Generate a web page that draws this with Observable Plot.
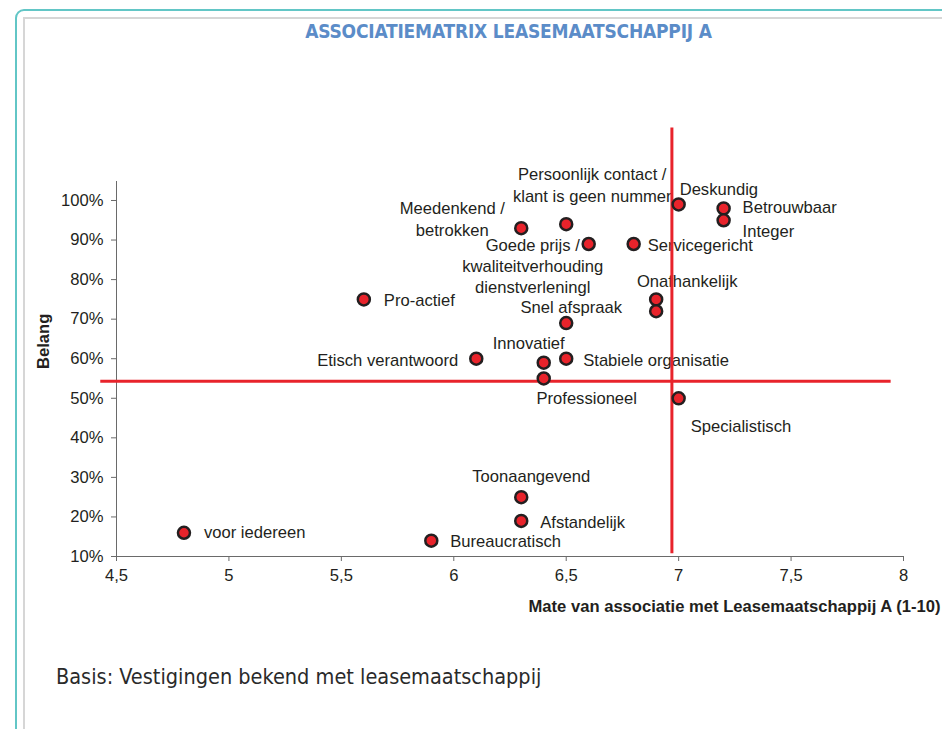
<!DOCTYPE html>
<html>
<head>
<meta charset="utf-8">
<script src="https://cdn.jsdelivr.net/npm/d3@7"></script>
<script src="https://cdn.jsdelivr.net/npm/@observablehq/plot@0.6"></script>
<style>
  html, body { margin: 0; padding: 0; background: #fff; }
  #page { position: relative; width: 942px; height: 729px; overflow: hidden; background: #fff; }
  #outer { position: absolute; left: 15px; top: 9px; width: 1000px; height: 800px; border: 2px solid #62c6c6; border-radius: 9px; box-sizing: border-box; }
  #inner { position: absolute; left: 23px; top: 17px; width: 1000px; height: 800px; border-left: 2px solid #d6d6d6; border-top: 2px solid #d6d6d6; box-sizing: border-box; }
  #title { position: absolute; left: 0; width: 1017px; top: 20px; text-align: center; font-family: "DejaVu Sans Condensed", "DejaVu Sans", sans-serif; font-weight: bold; font-size: 19px; color: #5b8cc8; letter-spacing: -0.2px; }
  #chart { position: absolute; left: 0; top: 0; }
  #caption { position: absolute; left: 56px; top: 664px; font-family: "DejaVu Sans Condensed", "DejaVu Sans", sans-serif; font-size: 21.5px; color: #2a2a2a; }
</style>
</head>
<body>
<div id="page">
  <div id="outer"></div>
  <div id="inner"></div>
  <div id="chart"></div>
  <div id="title">ASSOCIATIEMATRIX LEASEMAATSCHAPPIJ A</div>
  <div id="caption">Basis: Vestigingen bekend met leasemaatschappij</div>
</div>
<script>
// ---- data ----
const labels = [
  "voor iedereen", "Bureaucratisch", "Afstandelijk", "Toonaangevend", "Pro-actief",
  "Etisch verantwoord", "Innovatief", "Professioneel", "Stabiele organisatie", "Snel afspraak",
  "Meedenkend /\nbetrokken", "Persoonlijk contact /\nklant is geen nummer",
  "Goede prijs /\nkwaliteitverhouding\ndienstverleningl", "Servicegericht", "Deskundig",
  "Betrouwbaar", "Integer", "Onafhankelijk", "", "Specialistisch"
];
const association = [4.8, 5.9, 6.3, 6.3, 5.6, 6.1, 6.4, 6.4, 6.5, 6.5, 6.3, 6.5, 6.6, 6.8, 7.0, 7.2, 7.2, 6.9, 6.9, 7.0];
const importance  = [16, 14, 19, 25, 75, 60, 59, 55, 60, 69, 93, 94, 89, 89, 99, 98, 95, 75, 72, 50];

const xTicks = [4.5, 5, 5.5, 6, 6.5, 7, 7.5, 8];
const yTicks = [10, 20, 30, 40, 50, 60, 70, 80, 90, 100];

// reference (average) lines
const avgAssociation = 6.97;
const avgImportance = 54.3;

const xLabel = "Mate van associatie met Leasemaatschappij A (1-10)";
const yLabel = "Belang";

// label placement: [textAnchor, dx, dy]
const labelLayout = [
  ["start", 20, -2], ["start", 19, 0], ["start", 19, 0], ["middle", 10, -22], ["start", 20, 0],
  ["end", -18, 0], ["middle", -15, -20], ["middle", 43, 19], ["start", 17, 0], ["middle", 5, -17],
  ["middle", -69, -10], ["middle", 26, -40], ["middle", -56, 21], ["start", 14, 0], ["start", 1, -16],
  ["start", 19, -2], ["start", 19, 10], ["middle", 31, -19], ["start", 0, 0], ["start", 12, 27]
];

const points = labels.map((name, i) => ({name, x: association[i], y: importance[i]}));

const RED = "#e8232b";
const AXIS = "#6a6a6a";
const FS = 16.6;
const xFmt = d => String(d).replace(".", ",");

const textMarks = points.map((p, i) => Plot.text([p], {
  x: "x", y: "y", text: "name",
  textAnchor: labelLayout[i][0], dx: labelLayout[i][1], dy: labelLayout[i][2],
  lineAnchor: "middle", lineHeight: 1.28, fill: "#231f20", fontSize: FS
}));

const chart = Plot.plot({
  width: 942,
  height: 640,
  marginLeft: 116,
  marginRight: 39,
  marginTop: 181,
  marginBottom: 84,
  style: {fontFamily: "'Liberation Sans', Arial, sans-serif", fontSize: FS + "px", color: "#231f20", background: "transparent", overflow: "visible"},
  x: {domain: [4.5, 8], label: null},
  y: {domain: [10, 104.8], label: null},
  marks: [
    Plot.axisX({ticks: xTicks, tickFormat: xFmt, tickSize: 5, tickPadding: 8, stroke: AXIS, fill: "#231f20", label: null}),
    Plot.axisY({ticks: yTicks, tickFormat: d => d + "%", tickSize: 5, tickPadding: 8, stroke: AXIS, fill: "#231f20", label: null}),
    Plot.ruleX([4.5], {y1: 10, y2: 104.8, stroke: AXIS}),
    Plot.ruleY([10], {x1: 4.5, x2: 8, stroke: AXIS}),
    Plot.text([xLabel], {frameAnchor: "bottom-right", textAnchor: "end", dx: 37, dy: 55, fontWeight: "bold", fontSize: FS, fill: "#231f20"}),
    Plot.text([yLabel], {frameAnchor: "left", rotate: -90, dx: -73, fontWeight: "bold", fontSize: FS, fill: "#231f20"}),
    ...textMarks,
    Plot.ruleX([avgAssociation], {y1: 10.7, y2: 118.3, stroke: RED, strokeWidth: 3}),
    Plot.ruleY([avgImportance], {x1: 4.43, x2: 7.945, stroke: RED, strokeWidth: 3}),
    Plot.dot(points, {x: "x", y: "y", r: 6, fill: RED, stroke: "#231f20", strokeWidth: 2.5})
  ]
});
document.getElementById("chart").appendChild(chart);
</script>
</body>
</html>
